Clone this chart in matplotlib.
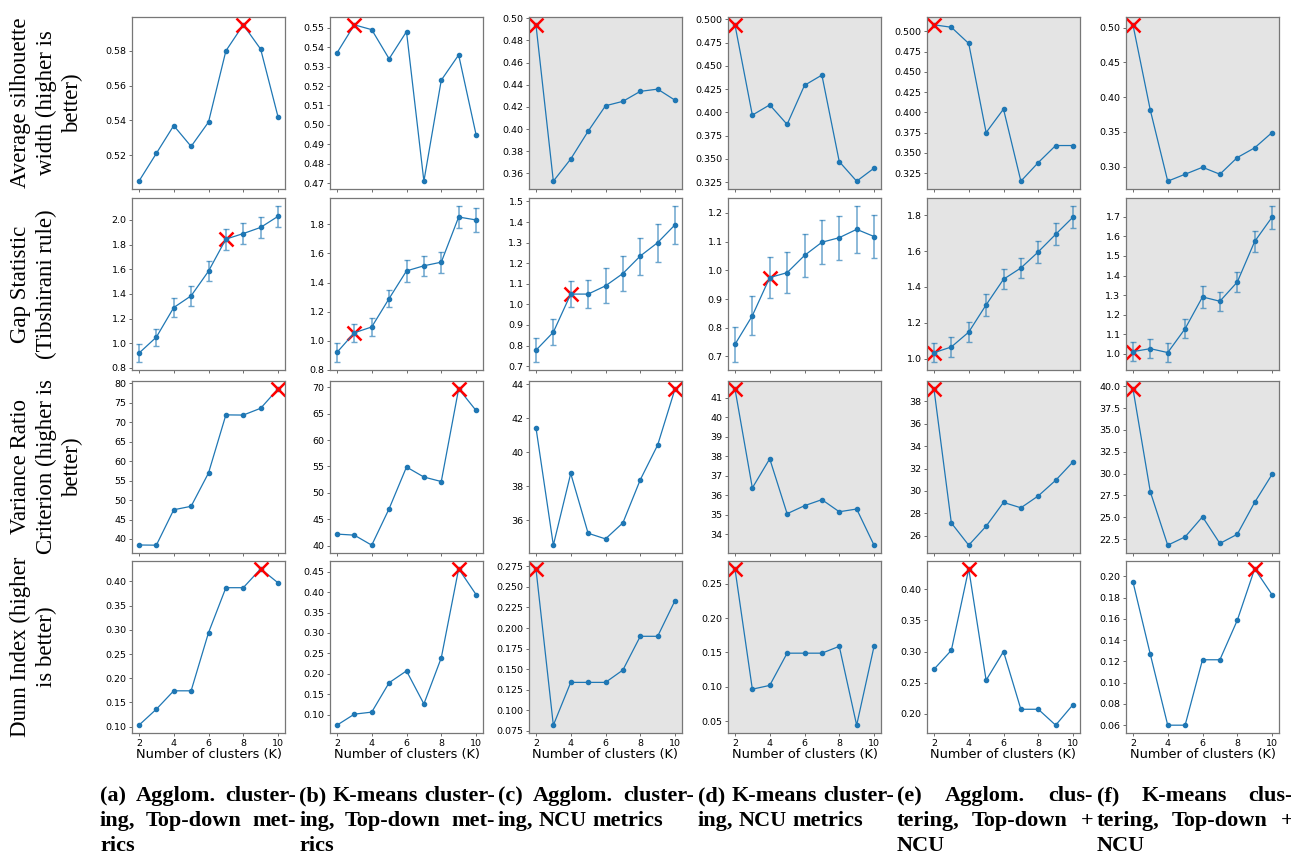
import matplotlib.pyplot as plt

W, H = 1291, 858
K = list(range(2, 11))

# Average silhouette width, one list per panel column (a..f)
sil_a = [0.505, 0.521, 0.537, 0.525, 0.539, 0.580, 0.595, 0.581, 0.542]
sil_b = [0.537, 0.5515, 0.549, 0.534, 0.548, 0.471, 0.523, 0.536, 0.495]
sil_c = [0.494, 0.353, 0.373, 0.398, 0.421, 0.425, 0.434, 0.436, 0.426]
sil_d = [0.494, 0.397, 0.408, 0.387, 0.429, 0.440, 0.347, 0.326, 0.340]
sil_e = [0.508, 0.505, 0.485, 0.375, 0.404, 0.315, 0.338, 0.359, 0.359]
sil_f = [0.504, 0.381, 0.279, 0.289, 0.299, 0.289, 0.313, 0.327, 0.349]

# Gap statistic values and error bars
gap_a = [0.92, 1.05, 1.29, 1.385, 1.585, 1.845, 1.89, 1.94, 2.03]
gap_a_err = [0.073, 0.07, 0.08, 0.08, 0.08, 0.085, 0.085, 0.085, 0.085]
gap_b = [0.92, 1.055, 1.095, 1.29, 1.48, 1.515, 1.54, 1.85, 1.83]
gap_b_err = [0.067, 0.063, 0.06, 0.06, 0.075, 0.07, 0.072, 0.077, 0.08]
gap_c = [0.777, 0.865, 1.05, 1.05, 1.09, 1.15, 1.235, 1.30, 1.387]
gap_c_err = [0.058, 0.064, 0.065, 0.068, 0.085, 0.085, 0.09, 0.093, 0.092]
gap_d = [0.742, 0.842, 0.975, 0.992, 1.052, 1.098, 1.114, 1.143, 1.118]
gap_d_err = [0.062, 0.067, 0.072, 0.071, 0.076, 0.077, 0.077, 0.082, 0.074]
gap_e = [1.033, 1.065, 1.148, 1.30, 1.443, 1.506, 1.596, 1.694, 1.79]
gap_e_err = [0.053, 0.056, 0.057, 0.06, 0.056, 0.058, 0.06, 0.062, 0.063]
gap_f = [1.012, 1.027, 1.007, 1.129, 1.291, 1.269, 1.367, 1.574, 1.698]
gap_f_err = [0.047, 0.048, 0.049, 0.049, 0.054, 0.049, 0.053, 0.056, 0.058]

# Variance ratio criterion
vrc_a = [38.45, 38.4, 47.5, 48.4, 56.95, 71.9, 71.85, 73.6, 78.6]
vrc_b = [42.2, 42.0, 40.1, 47.0, 54.9, 53.0, 52.15, 69.7, 65.6]
vrc_c = [41.45, 34.55, 38.76, 35.25, 34.92, 35.86, 38.39, 40.43, 43.73]
vrc_d = [41.45, 36.38, 37.87, 35.06, 35.47, 35.78, 35.16, 35.3, 33.45]
vrc_e = [39.1, 27.15, 25.17, 26.86, 28.98, 28.5, 29.56, 30.95, 32.6]
vrc_f = [39.7, 27.9, 21.8, 22.75, 25.05, 22.0, 23.05, 26.7, 29.9]

# Dunn index
dunn_a = [0.103, 0.136, 0.174, 0.174, 0.294, 0.387, 0.387, 0.426, 0.397]
dunn_b = [0.074, 0.101, 0.106, 0.178, 0.207, 0.126, 0.239, 0.457, 0.394]
dunn_c = [0.272, 0.082, 0.134, 0.134, 0.134, 0.149, 0.190, 0.190, 0.2335]
dunn_d = [0.272, 0.0965, 0.102, 0.149, 0.149, 0.149, 0.159, 0.044, 0.159]
dunn_e = [0.2715, 0.302, 0.4325, 0.254, 0.300, 0.2075, 0.2075, 0.182, 0.215]
dunn_f = [0.1947, 0.1265, 0.060, 0.060, 0.1215, 0.1215, 0.1586, 0.207, 0.1827]

# chosen K (red cross) per row, per column
best_sil = [8, 3, 2, 2, 2, 2]
best_gap = [7, 3, 4, 4, 2, 2]
best_vrc = [10, 9, 10, 2, 2, 2]
best_dunn = [9, 9, 2, 2, 4, 9]

# which panels have the gray background
shaded = [
    [False, False, True, True, True, True],
    [False, False, False, False, True, True],
    [False, False, False, True, True, True],
    [False, False, True, True, False, False],
]

row_labels = [
    "Average silhouette\nwidth (higher is\nbetter)",
    "Gap Statistic\n(Tibshirani rule)",
    "Variance Ratio\nCriterion (higher is\nbetter)",
    "Dunn Index (higher\nis better)",
]

captions = [
    ["(a) Agglom. cluster-", "ing, Top-down met-", "rics"],
    ["(b) K-means cluster-", "ing, Top-down met-", "rics"],
    ["(c) Agglom. cluster-", "ing, NCU metrics"],
    ["(d) K-means cluster-", "ing, NCU metrics"],
    ["(e) Agglom. clus-", "tering, Top-down +", "NCU"],
    ["(f) K-means clus-", "tering, Top-down +", "NCU"],
]

sil = [sil_a, sil_b, sil_c, sil_d, sil_e, sil_f]
gap = [gap_a, gap_b, gap_c, gap_d, gap_e, gap_f]
gap_err = [gap_a_err, gap_b_err, gap_c_err, gap_d_err, gap_e_err, gap_f_err]
vrc = [vrc_a, vrc_b, vrc_c, vrc_d, vrc_e, vrc_f]
dunn = [dunn_a, dunn_b, dunn_c, dunn_d, dunn_e, dunn_f]
rows = [sil, gap, vrc, dunn]
bests = [best_sil, best_gap, best_vrc, best_dunn]

blue = "#1f77b4"
col_left = [132, 330, 529, 728, 927, 1126]
row_top = [17, 198, 381, 561]
ax_w, ax_h = 153, 172

fig = plt.figure(figsize=(W / 100, H / 100), dpi=100)

for r in range(4):
    for c in range(6):
        l = col_left[c] / W
        b = 1 - (row_top[r] + ax_h) / H
        ax = fig.add_axes([l, b, ax_w / W, ax_h / H])
        vals = rows[r][c]
        if r == 1:
            line, caps, bars = ax.errorbar(K, vals, yerr=gap_err[c], color=blue,
                                           marker="o", ms=3, lw=0.9,
                                           capsize=2.3, elinewidth=1.1)
            for cl in caps:
                cl.set_alpha(0.65)
            for bl in bars:
                bl.set_alpha(0.65)
        else:
            ax.plot(K, vals, color=blue, marker="o", ms=3, lw=0.9)
        bk = bests[r][c]
        ax.plot([bk], [vals[K.index(bk)]], "x", color="red", ms=10, mew=1.8)

        if shaded[r][c]:
            ax.set_facecolor("#e4e4e4")
        for s in ax.spines.values():
            s.set_color("#777777")
            s.set_linewidth(0.9)
        ax.tick_params(labelsize=6.8, length=2.5, width=0.6, pad=1.5,
                       color="#555555")
        ax.set_xticks([2, 4, 6, 8, 10])
        if r == 3:
            ax.set_xlabel("Number of clusters (K)", fontsize=9.3, labelpad=0)
        else:
            ax.tick_params(labelbottom=False)

# row titles on the left
for r in range(4):
    yc = 1 - (row_top[r] + ax_h / 2) / H
    fig.text(10 / W, yc, row_labels[r], rotation=90, ha="left", va="center",
             multialignment="center", family="Liberation Serif", fontsize=16.5,
             linespacing=1.3)

# justified bold captions under each column
fig.canvas.draw()
renderer = fig.canvas.get_renderer()
cap_size = 16
cap_left = [100, 299, 498, 698, 897, 1097]
cap_width = 196
baselines = [801, 826, 851]
for c, lines in enumerate(captions):
    for i, line in enumerate(lines):
        words = line.split(" ")
        texts = [fig.text(0, 0, w, family="Liberation Serif", weight="bold",
                          fontsize=cap_size, va="baseline") for w in words]
        widths = [t.get_window_extent(renderer).width for t in texts]
        if i < len(lines) - 1 and len(words) > 1:
            g = (cap_width - sum(widths)) / (len(words) - 1)
        else:
            g = cap_size * 0.25 * 100 / 72
        x = cap_left[c]
        for t, w in zip(texts, widths):
            t.set_position((x / W, 1 - baselines[i] / H))
            x += w + g

fig.savefig("out.png", dpi=100)
